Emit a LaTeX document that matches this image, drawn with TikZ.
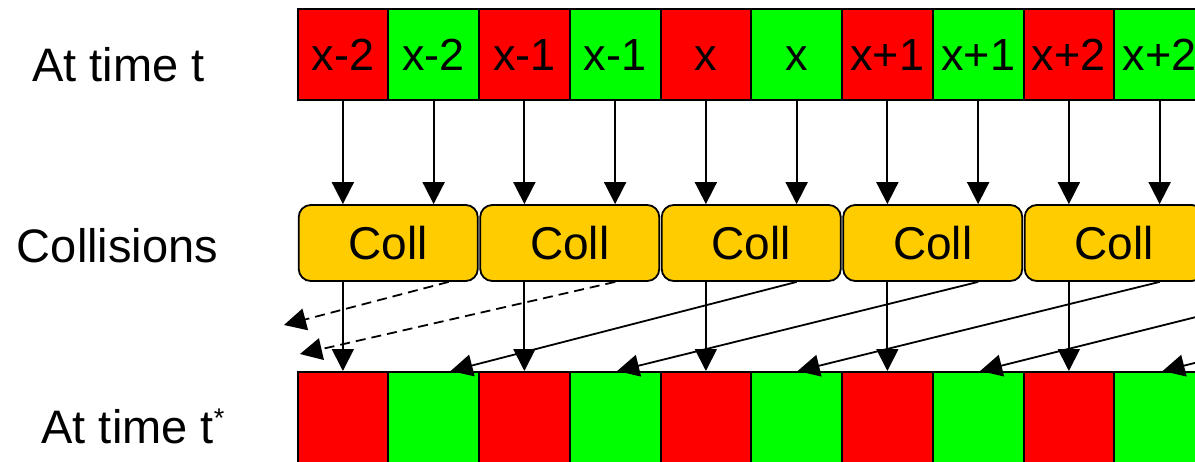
\documentclass[tikz,border=0pt]{standalone}
\usepackage{fontspec}
\setmainfont{Liberation Sans}
\usetikzlibrary{arrows.meta,calc}
\definecolor{cellred}{RGB}{255,0,0}
\definecolor{cellgreen}{RGB}{0,255,0}
\definecolor{collyellow}{RGB}{255,204,0}
\tikzset{
  cell/.style={draw=black, line width=2pt, minimum width=90.75pt, minimum height=91pt,
    inner sep=0pt, text height=32.5pt, text depth=0pt, font=\fontsize{45}{50}\selectfont},
  collbox/.style={draw=black, line width=1.8pt, fill=collyellow, rounded corners=12pt,
    minimum width=179pt, minimum height=76pt, inner sep=0pt, text height=33pt, text depth=0pt,
    font=\fontsize{46}{50}\selectfont},
  rowlabel/.style={anchor=base, inner sep=0pt, font=\fontsize{47}{52}\selectfont},
  arr/.style={line width=1.8pt, -{Triangle[length=22pt,width=22pt]}},
  dasharr/.style={arr, dash pattern=on 10pt off 6pt},
}
\begin{document}
\begin{tikzpicture}[x=1pt,y=-1pt]
\useasboundingbox (0,0) rectangle (1195,461);
\clip (0,0) rectangle (1195,461);

% row labels
\node[rowlabel] (lt)  at (118.5,81.5) {At time t};
\node[rowlabel] (lc)  at (117.5,262) {Collisions};
\node[rowlabel] (lts) at (133,443) {At time t\raisebox{16pt}{\fontsize{27}{30}\selectfont *}};

% populations at time t
\foreach \i/\lab/\col in {0/x-2/cellred,1/x-2/cellgreen,2/x-1/cellred,3/x-1/cellgreen,
    4/x/cellred,5/x/cellgreen,6/x+1/cellred,7/x+1/cellgreen,8/x+2/cellred,9/x+2/cellgreen}
  \node[cell, fill=\col] (t\i) at ({297.5+90.75*(\i+0.5)},54.5) {\lab};

% populations after collision
\foreach \i/\col in {0/cellred,1/cellgreen,2/cellred,3/cellgreen,4/cellred,
    5/cellgreen,6/cellred,7/cellgreen,8/cellred,9/cellgreen}
  \node[cell, fill=\col] (b\i) at ({297.5+90.75*(\i+0.5)},417.5) {};

% collision operators, one per site
\foreach \k in {0,...,4}
  \node[collbox] (c\k) at ({297.5+90.75*(2*\k+1)},243) {Coll};

% inputs to the collision step
\foreach \i in {0,...,9}{
  \pgfmathtruncatemacro{\k}{int(\i/2)}
  \draw[arr] (t\i.south) -- (t\i.south |- c\k.north);
}

% red population stays on its site
\foreach \k in {0,...,4}{
  \pgfmathtruncatemacro{\j}{2*\k}
  \draw[arr] (c\k.south -| b\j.north) -- (b\j.north);
}

% green population streams two sites to the left
\coordinate (s5) at (1340,281);
\coordinate (s6) at (1522,281);
\draw[arr] (c2.south -| t5.center) -- ($(b1.north)+(17,0)$);
\draw[arr] (c3.south -| t7.center) -- ($(b3.north)+(2,0)$);
\draw[arr] (c4.south -| t9.center) -- ($(b5.north)+(1,0)$);
\draw[arr] (s5) -- ($(b7.north)+(2,0)$);
\draw[arr] (s6) -- ($(b9.north)+(3,0)$);

% streaming out of the domain on the left
\coordinate (o1) at (284,325);
\coordinate (o2) at (300,354);
\draw[dasharr] ($(c0.south -| t1.center)+(15,0)$) -- (o1);
\draw[dasharr] (c1.south -| t3.center) -- (o2);
\end{tikzpicture}
\end{document}
